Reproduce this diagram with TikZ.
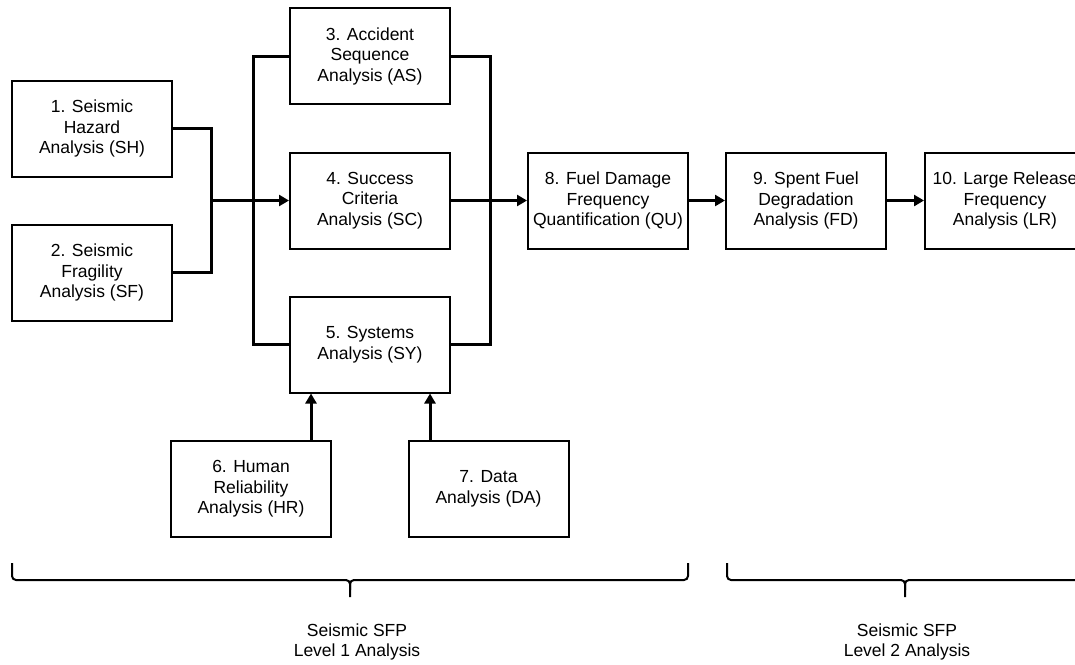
\documentclass[tikz,border=0pt]{standalone}
\usepackage{fontspec}
\setmainfont{Liberation Sans}
\usepackage{tikz}
\usetikzlibrary{calc,arrows.meta}

\begin{document}
\begin{tikzpicture}[x=1pt,y=-1pt,
    task/.style={draw,line width=2pt,minimum width=160pt,minimum height=96pt,
      inner sep=0pt,align=center,font=\fontsize{17.5}{20.5}\selectfont},
    link/.style={line width=3pt},
    feed/.style={line width=3pt,-{Triangle[length=10pt,width=11pt]}},
    span/.style={line width=2pt,rounded corners=4pt},
    caption/.style={align=center,font=\fontsize{17.5}{20.5}\selectfont}]
          \useasboundingbox (0,0) rectangle (1075,664);
          % analysis tasks
          \node [task] (SH) at (92,128.5) {1. Seismic\\Hazard\\Analysis (SH)};
          \node [task] (SF) at (92,272.5) {2. Seismic\\Fragility\\Analysis (SF)};
          \node [task] (AS) at (370,56) {3. Accident\\Sequence\\Analysis (AS)};
          \node [task] (SC) at (370,200.5) {4. Success\\Criteria\\Analysis (SC)};
          \node [task] (SY) at (370,344.5) {5. Systems\\Analysis (SY)};
          \node [task] (HR) at (251,489) {6. Human\\Reliability\\Analysis (HR)};
          \node [task] (DA) at (488.5,489) {7. Data\\Analysis (DA)};
          \node [task] (QU) at (608,200.5) {8. Fuel Damage\\Frequency\\Quantification (QU)};
          \node [task] (FD) at (806,200.5) {9. Spent Fuel\\Degradation\\Analysis (FD)};
          \node [task] (LR) at (1005,200.5) {10. Large Release\\Frequency\\Analysis (LR)};
          \coordinate (join) at (211,200.5);
          \coordinate (busL) at (253,0);
          \coordinate (busR) at (490,0);
          % connectors
          \draw [link] (SH.east) -| (join) |- (SF.east);
          \draw [feed] (join) -- (SC.west);
          \draw [link] (AS.west) -| (busL |- SY.west) -- (SY.west);
          \draw [link] (AS.east) -| (busR |- SY.east) -- (SY.east);
          \draw [feed] (SC.east) -- (QU.west);
          \draw [feed] (QU.east) -- (FD.west);
          \draw [feed] (FD.east) -- (LR.west);
          \draw [feed] (HR.north -| 311,0) -- (311,0 |- SY.south);
          \draw [feed] (DA.north -| 430,0) -- (430,0 |- SY.south);
          % level braces
          \draw [span] (12,563) -- (12,580) -- (350,580) -- (350,597);
          \draw [span] (350,590) -- (350,580) -- (688,580) -- (688,563);
          \draw [span] (727,563) -- (727,580) -- (905,580) -- (905,597);
          \draw [span] (905,590) -- (905,580) -- (1083,580) -- (1083,563);
          \node [caption] (L1) at (357,642) {Seismic SFP\\Level 1 Analysis};
          \node [caption] (L2) at (907,642) {Seismic SFP\\Level 2 Analysis};
        \end{tikzpicture}
\end{document}
